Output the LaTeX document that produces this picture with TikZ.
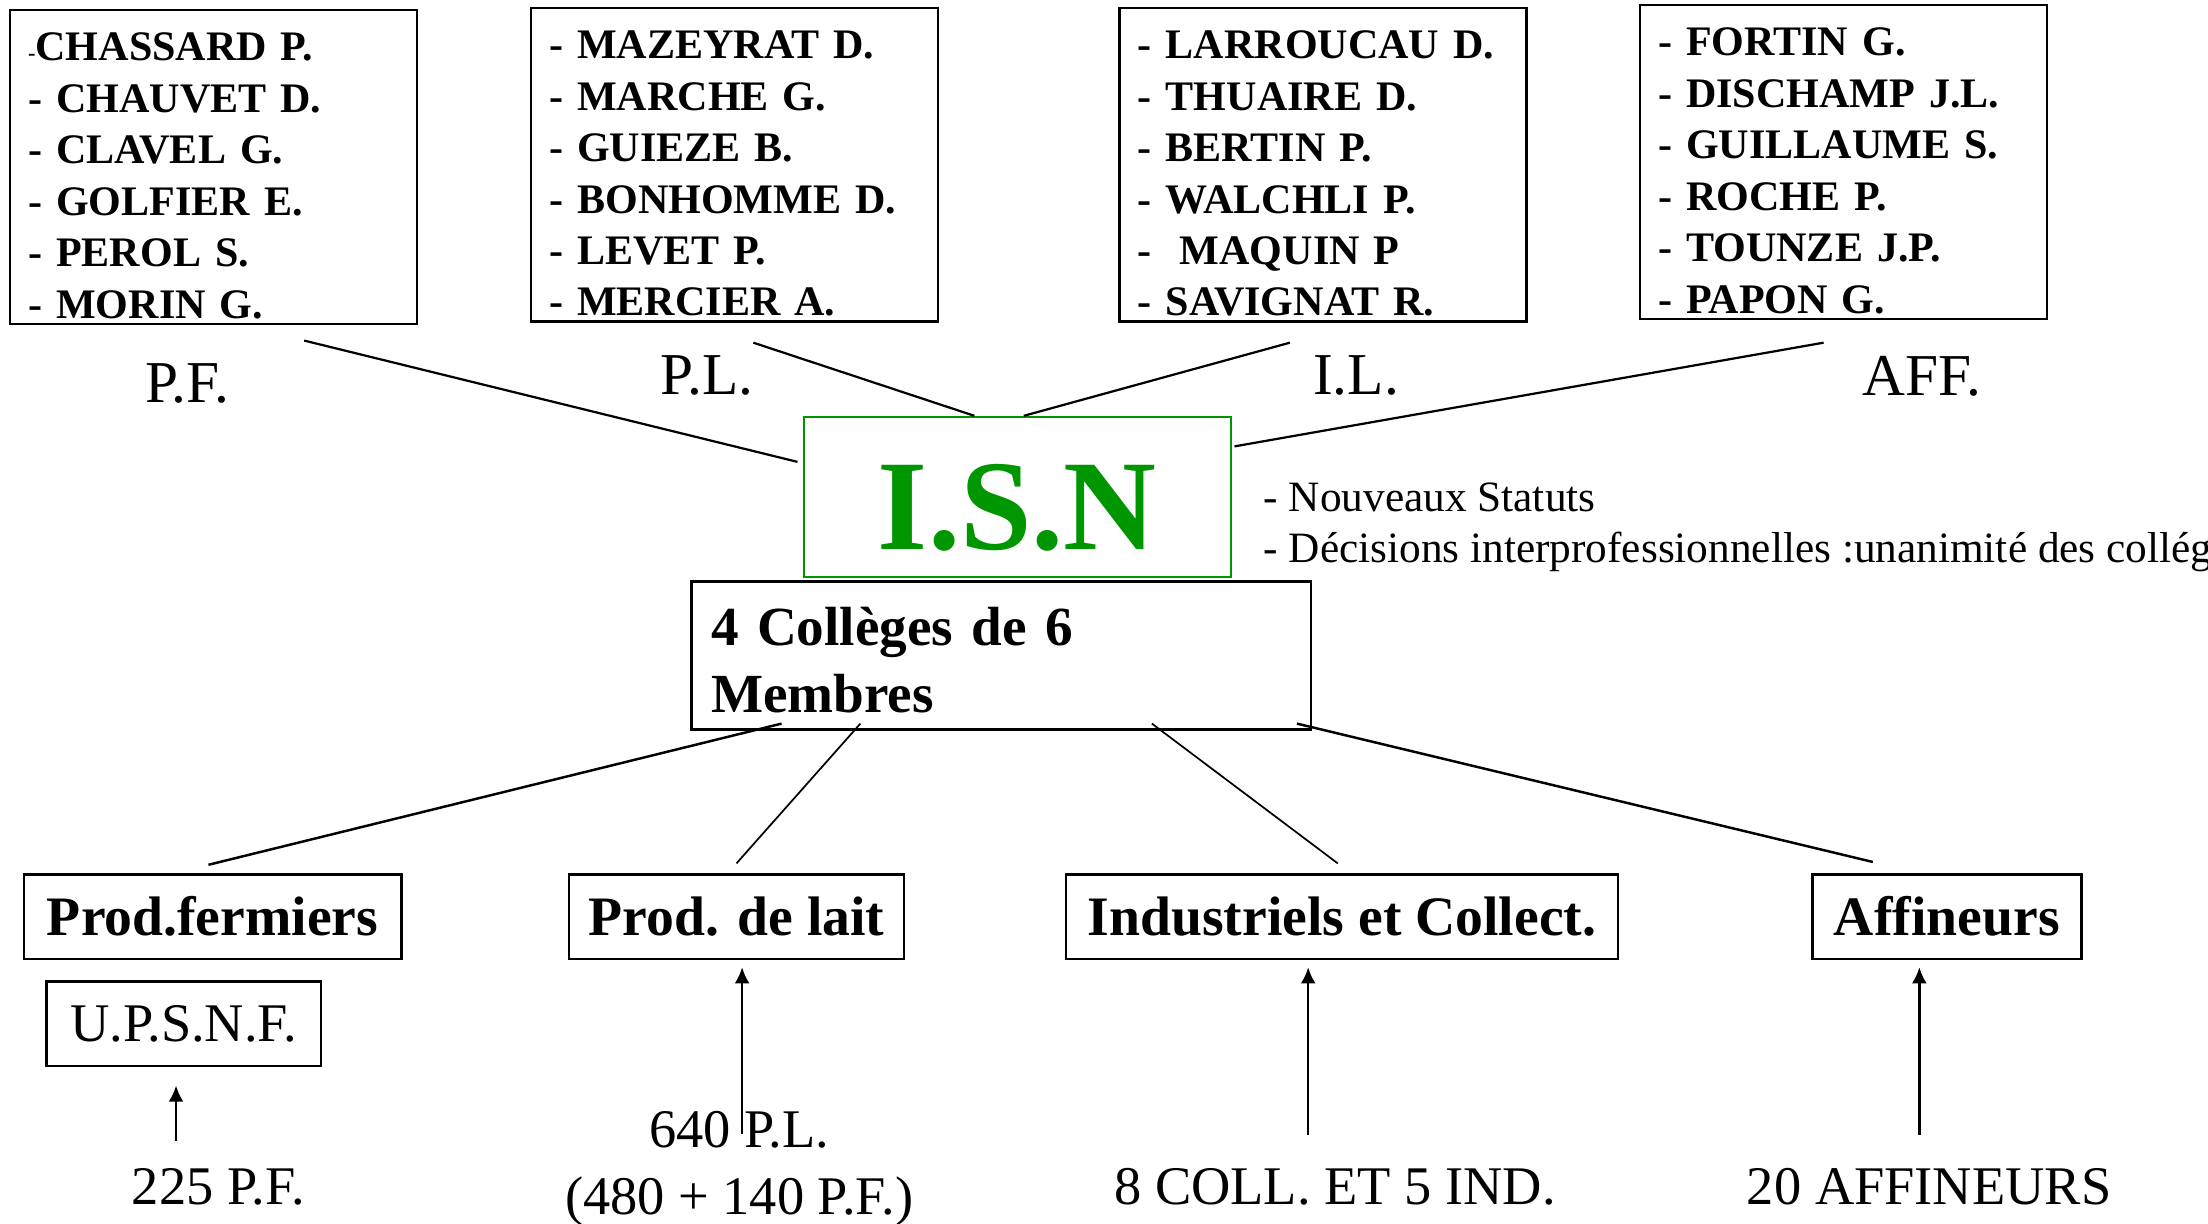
\documentclass[tikz,border=0pt]{standalone}
\usepackage{fontspec}
\setmainfont{Liberation Serif}
\usetikzlibrary{calc,arrows.meta}
\definecolor{isngreen}{RGB}{0,150,0}

\tikzset{
  namebox/.style={draw, line width=1pt, align=left, text width=5.26cm,
    inner xsep=0.26cm, inner ysep=0.05cm, minimum height=4.46cm,
    font=\bfseries\fontsize{17}{20.8}\selectfont},
  collegebox/.style={draw, line width=1pt, inner sep=0pt, minimum height=1.2cm,
    font=\bfseries\fontsize{22.5}{27}\selectfont},
  tag/.style={inner sep=0pt, font=\fontsize{24}{28}\selectfont},
  count/.style={inner sep=0pt, align=center, font=\fontsize{22}{27.3}\selectfont}
}
% strut that pushes the first line of a list down
\newcommand{\toppad}{\rule{0pt}{18.5pt}}

\begin{document}
\begin{tikzpicture}[x=0.02cm, y=-0.02cm, >={Latex[length=6.5pt,width=6pt]}]

    % Fix the page to the reference proportions
    \useasboundingbox (0,0) rectangle (1568,869.2);

    % The four colleges: lists of members
    \node[namebox] (pf)  at (151.5,118.5)
      {\toppad{\fontsize{9}{9}\selectfont -}CHASSARD P.\\- CHAUVET D.\\- CLAVEL G.\\- GOLFIER E.\\- PEROL S.\\- MORIN G.};
    \node[namebox] (pl)  at (521.5,117)
      {\toppad- MAZEYRAT D.\\- MARCHE G.\\- GUIEZE B.\\- BONHOMME D.\\- LEVET P.\\- MERCIER A.};
    \node[namebox] (il)  at (939.5,117)
      {\toppad- LARROUCAU D.\\- THUAIRE D.\\- BERTIN P.\\- WALCHLI P.\\- \ MAQUIN P\\- SAVIGNAT R.};
    \node[namebox, minimum width=5.76cm] (aff) at (1309,115)
      {\toppad- FORTIN G.\\- DISCHAMP J.L.\\- GUILLAUME S.\\- ROCHE P.\\- TOUNZE J.P.\\- PAPON G.};

    % Short names under the lists
    \node[tag] (pftag)  at (133,272) {P.F.};
    \node[tag] (pltag)  at (502,267) {P.L.};
    \node[tag] (iltag)  at (963,267) {I.L.};
    \node[tag] (afftag) at (1365,267) {AFF.};

    % Central box I.S.N and its notes
    \node[draw=isngreen, line width=0.8pt, minimum width=6.06cm, minimum height=2.28cm,
      inner sep=0pt, text=isngreen, text height=1.49cm, text depth=0pt,
      font=\bfseries\fontsize{52}{52}\selectfont] (isn) at (722.5,353) {I.S.N};
    \node[anchor=west, inner sep=0pt, align=left, font=\fontsize{17.5}{21}\selectfont]
      (notes) at (897,374.5)
      {- Nouveaux Statuts\\- Décisions interprofessionnelles :unanimité des colléges};

    \node[draw, line width=1pt, align=left, text width=8.24cm, inner xsep=0.28cm,
      inner ysep=0.05cm, minimum height=2.1cm,
      font=\bfseries\fontsize{22.3}{27.3}\selectfont] (col) at (711,465.5)
      {\rule{0pt}{19.3pt}4 Collèges de 6\\Membres};

    % Lists to I.S.N
    \draw[line width=0.9pt]
      ($(pf.south)+(64.5,11)$)  -- ($(isn.west)+(-4,-25)$)
      ($(pl.south)+(13.5,14)$)  -- ($(isn.north)+(-30.5,0)$)
      ($(il.south)+(-23.5,14)$) -- ($(isn.north)+(4.5,0)$)
      ($(aff.south)+(-14,16)$)  -- ($(isn.east)+(2,-36)$);

    % The four professions
    \node[collegebox, minimum width=5.36cm] (pfm)   at (151,651)    {Prod.fermiers};
    \node[collegebox, minimum width=4.76cm] (pdl)   at (523,651)    {Prod. de lait};
    \node[collegebox, minimum width=7.84cm] (ind)   at (953,651)    {Industriels et Collect.};
    \node[collegebox, minimum width=3.82cm] (affin) at (1382.5,651) {Affineurs};
    \node[draw, line width=1pt, inner sep=0pt, minimum width=3.9cm, minimum height=1.2cm,
      font=\fontsize{22}{27}\selectfont] (upsnf) at (130.5,727) {U.P.S.N.F.};

    % Colleges box to the professions
    \draw[line width=1pt]
      ($(col.south)+(-156,-5)$) -- ($(pfm.north)+(-3,-6)$)
      ($(col.south)+(210,-5)$)  -- ($(affin.north)+(-52.5,-8)$);
    \draw[line width=0.7pt]
      ($(col.south)+(-100,-5)$) -- ($(pdl.north)+(0,-7)$)
      ($(col.south)+(107,-5)$)  -- ($(ind.north)+(-3,-7)$);

    % Counts at the bottom
    \node[count] (n225) at (155,843)  {225 P.F.};
    \node[count] (n640) at (525,830)  {640 P.L.\\(480 + 140 P.F.)};
    \node[count] (n8)   at (948,843)  {8 COLL. ET 5 IND.};
    \node[count] (n20)  at (1370,843) {20 AFFINEURS};

    \draw[->, line width=1pt] ($(n225)+(-30,-33)$) -- ($(upsnf.south)+(-5.5,13)$);
    \draw[->, line width=1pt] ($(n640)+(2,-25)$)   -- ($(pdl.south)+(4,5)$);
    \draw[->, line width=1pt] ($(n8)+(-19,-37)$)   -- ($(ind.south)+(-24,5)$);
    \draw[->, line width=1pt] ($(n20)+(-7,-37)$)   -- ($(affin.south)+(-19.5,5)$);

\end{tikzpicture}
\end{document}
